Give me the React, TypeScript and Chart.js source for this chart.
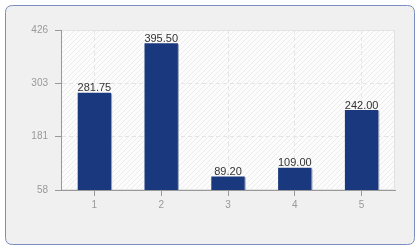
import React, { useEffect, useRef } from "react";
import { Chart, registerables } from "chart.js";

Chart.register(...registerables);

const categories = ["1", "2", "3", "4", "5"];
const values = [281.75, 395.5, 89.2, 109.0, 242.0];
const yTicks = [58, 180.6667, 303.3333, 426];

const FONT = "'Liberation Sans', Arial, sans-serif";

function makePattern(ctx: CanvasRenderingContext2D) {
  const c = document.createElement("canvas");
  c.width = 5;
  c.height = 5;
  const p = c.getContext("2d")!;
  p.fillStyle = "#fcfcfc";
  p.fillRect(0, 0, 5, 5);
  p.strokeStyle = "#ececec";
  p.lineWidth = 1;
  p.beginPath();
  p.moveTo(0, 5);
  p.lineTo(5, 0);
  p.moveTo(-1, 1);
  p.lineTo(1, -1);
  p.moveTo(4, 6);
  p.lineTo(6, 4);
  p.stroke();
  return ctx.createPattern(c, "repeat");
}

const bgPlugin = {
  id: "bg",
  beforeDraw(chart: any) {
    const { ctx, chartArea } = chart;
    ctx.save();
    const x = 5.5, y = 5.5, w = 409, h = 239, r = 7;
    ctx.beginPath();
    ctx.moveTo(x + r, y);
    ctx.lineTo(x + w - r, y);
    ctx.quadraticCurveTo(x + w, y, x + w, y + r);
    ctx.lineTo(x + w, y + h - r);
    ctx.quadraticCurveTo(x + w, y + h, x + w - r, y + h);
    ctx.lineTo(x + r, y + h);
    ctx.quadraticCurveTo(x, y + h, x, y + h - r);
    ctx.lineTo(x, y + r);
    ctx.quadraticCurveTo(x, y, x + r, y);
    ctx.closePath();
    ctx.fillStyle = "#f0f0f0";
    ctx.fill();
    ctx.strokeStyle = "#7a8cc0";
    ctx.lineWidth = 1;
    ctx.stroke();
    const pat = makePattern(ctx);
    ctx.fillStyle = pat || "#fcfcfc";
    ctx.fillRect(chartArea.left, chartArea.top, chartArea.right - chartArea.left, chartArea.bottom - chartArea.top);
    ctx.strokeStyle = "#e2e2e2";
    ctx.strokeRect(chartArea.left + 0.5, chartArea.top + 0.5, chartArea.right - chartArea.left - 1, chartArea.bottom - chartArea.top - 1);
    ctx.restore();
  },
};

const shadowPlugin = {
  id: "barShadow",
  beforeDatasetsDraw(chart: any) {
    const { ctx, chartArea } = chart;
    const meta = chart.getDatasetMeta(0);
    ctx.save();
    ctx.fillStyle = "#9aa2b8";
    meta.data.forEach((bar: any) => {
      const p = bar.getProps(["x", "y", "base", "width"], true);
      const bottom = Math.min(p.base, chartArea.bottom);
      ctx.fillRect(p.x + p.width / 2, p.y + 1, 1, bottom - p.y - 1);
    });
    ctx.restore();
  },
};

const labelPlugin = {
  id: "valueLabels",
  afterDatasetsDraw(chart: any) {
    const { ctx } = chart;
    const meta = chart.getDatasetMeta(0);
    ctx.save();
    ctx.font = `11px ${FONT}`;
    ctx.fillStyle = "#333333";
    ctx.textAlign = "center";
    ctx.textBaseline = "bottom";
    meta.data.forEach((bar: any, i: number) => {
      const p = bar.getProps(["x", "y"], true);
      ctx.fillText(values[i].toFixed(2), p.x, p.y + 1);
    });
    ctx.restore();
  },
};

export default function App() {
  const ref = useRef<HTMLCanvasElement>(null);
  useEffect(() => {
    if (!ref.current) return;
    const chart = new Chart(ref.current, {
      type: "bar",
      data: {
        labels: categories,
        datasets: [
          {
            data: values,
            backgroundColor: "#19387e",
            barPercentage: 0.5,
            categoryPercentage: 1,
            borderWidth: 0,
          },
        ],
      },
      options: {
        animation: false,
        responsive: false,
        maintainAspectRatio: false,
        layout: { padding: { left: 0, right: 25, top: 30, bottom: 0 } },
        plugins: { legend: { display: false }, tooltip: { enabled: false } },
        scales: {
          x: {
            grid: {
              offset: false,
              color: "#e4e4e4",
              tickColor: "#999999",
              tickLength: 6,
              drawOnChartArea: true,
            },
            border: { color: "#999999", width: 1, dash: [4, 3] },
            ticks: { color: "#999999", font: { family: FONT, size: 10 }, padding: 3 },
            afterFit(scale: any) {
              scale.height = 60;
            },
          },
          y: {
            min: 58,
            max: 426,
            afterBuildTicks(scale: any) {
              scale.ticks = yTicks.map((v) => ({ value: v }));
            },
            grid: {
              color: "#e4e4e4",
              tickColor: "#999999",
              tickLength: 6,
            },
            border: { color: "#999999", width: 1, dash: [4, 3] },
            ticks: {
              color: "#999999",
              font: { family: FONT, size: 10 },
              padding: 7,
              callback: (v: any) => String(Math.round(Number(v))),
            },
            afterFit(scale: any) {
              scale.width = 61;
            },
          },
        },
      },
      plugins: [bgPlugin, shadowPlugin, labelPlugin],
    });
    return () => chart.destroy();
  }, []);
  return (
    <div style={{ position: "fixed", left: 0, top: 0, width: 420, height: 250, background: "#ffffff" }}>
      <canvas ref={ref} width={420} height={250} style={{ display: "block" }} />
    </div>
  );
}
